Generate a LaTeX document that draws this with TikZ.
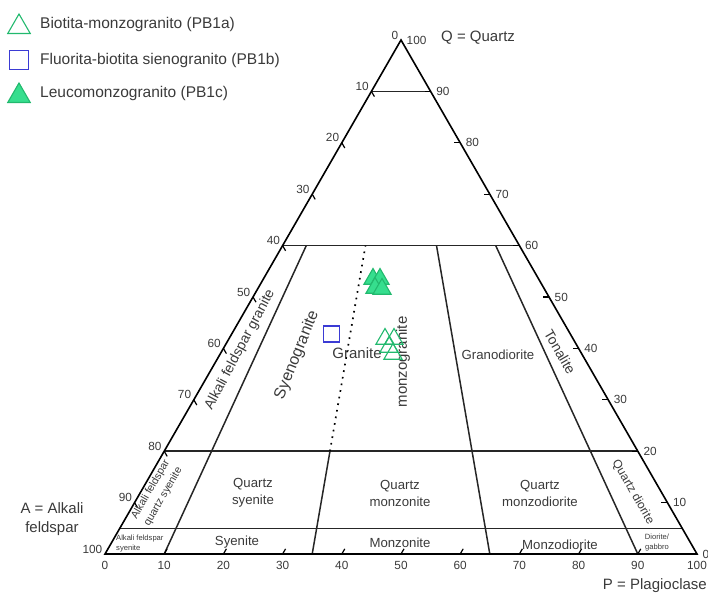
\documentclass[tikz,border=0pt]{standalone}
\usepackage{fontspec}
\setmainfont{Liberation Sans}
\usepackage{tikz}
\usetikzlibrary{
  calc,
  shapes.geometric
}
\definecolor{qapfGreen}{HTML}{36DE8E}
\definecolor{qapfGreenDark}{HTML}{22B96E}
\definecolor{qapfBlue}{HTML}{3B3BD4}
\definecolor{qapfText}{HTML}{3A3A3A}
\tikzset{
  qapfEdge/.style={black, line width=1.6pt, line join=miter},
  qapfBoundary/.style={black!85, line width=1.5pt},
  qapfDotted/.style={black, line width=1.7pt, dash pattern=on 1.7pt off 5pt},
  qapfTick/.style={black, line width=1.2pt},
  tickLabel/.style={font=\fontsize{11.8}{13}\selectfont, text=qapfText, inner sep=0pt},
  axisLabel/.style={font=\fontsize{15}{19}\selectfont, text=qapfText, align=center, inner sep=0pt},
  fieldLabel/.style={font=\fontsize{13.2}{17}\selectfont, text=qapfText, align=center, inner sep=0pt},
  fieldBig/.style={fieldLabel, font=\fontsize{15}{18}\selectfont},
  fieldSmall/.style={fieldLabel, font=\fontsize{10.6}{14.5}\selectfont},
  fieldTiny/.style={fieldLabel, font=\fontsize{7.6}{10}\selectfont},
  legendText/.style={font=\fontsize{15.5}{18}\selectfont, text=qapfText, anchor=west, inner sep=0pt},
  openTri/.style={regular polygon, regular polygon sides=3, draw=qapfGreenDark,
    line width=1.1pt, minimum size=21pt, inner sep=0pt},
  fillTri/.style={openTri, fill=qapfGreen},
  openSquare/.style={rectangle, draw=qapfBlue, line width=1.3pt,
    minimum size=16pt, inner sep=0pt}
}

\begin{document}
\begin{tikzpicture}[x=1pt,y=1pt]
  \useasboundingbox (0,0) rectangle (708,592);

  % corners of the QAP triangle
  \coordinate (A) at (105,38);
  \coordinate (P) at (697,38);
  \coordinate (Q) at (401,552);

  \foreach \k in {0,...,10} {
    \coordinate (L\k) at ($(A)!\k/10!(Q)$);
    \coordinate (R\k) at ($(P)!\k/10!(Q)$);
    \coordinate (B\k) at ($(A)!\k/10!(P)$);
  }
  \coordinate (L05) at ($(A)!0.05!(Q)$);
  \coordinate (R05) at ($(P)!0.05!(Q)$);

  % radial field boundaries (feet on the A-P side)
  \foreach \p/\n in {0.1/a, 0.35/b, 0.65/c, 0.9/d} {
    \coordinate (foot\n) at ($(A)!\p!(P)$);
    \coordinate (mid\n) at ($(foot\n)!0.2!(Q)$);
    \coordinate (top\n) at ($(foot\n)!0.6!(Q)$);
  }

  \draw[qapfBoundary] (L9) -- (R9);
  \draw[qapfBoundary] (L6) -- (R6);
  \draw[qapfBoundary] (L2) -- (R2);
  \draw[qapfBoundary] (L05) -- (R05);
  \draw[qapfBoundary] (foota) -- (topa);
  \draw[qapfBoundary] (footb) -- (midb);
  \draw[qapfDotted] (midb) -- (topb);
  \draw[qapfBoundary] (footc) -- (topc);
  \draw[qapfBoundary] (footd) -- (topd);

  \draw[qapfEdge] (A) -- (P) -- (Q) -- cycle;

  % ticks
  \foreach \k in {1,...,9} {
    \draw[qapfTick] (L\k) -- ++(-60:6);
    \draw[qapfTick] (R\k) -- ++(-6,0);
    \draw[qapfTick] (B\k) -- ++(60:6);
  }

  % tick labels
  \foreach \k [evaluate=\k as \v using {int(100-10*\k)}] in {0,...,10}
    \node[tickLabel, anchor=east] (tl\k) at ([xshift=-2.5, yshift=5]L\k) {\v};
  \foreach \k [evaluate=\k as \v using {int(10*\k)}] in {0,...,10}
    \node[tickLabel, anchor=west] (tr\k) at ([xshift=5.5]R\k) {\v};
  \foreach \k [evaluate=\k as \v using {int(10*\k)}] in {0,...,10}
    \node[tickLabel, anchor=north] (tb\k) at ([yshift=-7]B\k) {\v};

  % corner names
  \node[axisLabel, anchor=west] (nameQ) at (441,554) {Q = Quartz};
  \node[axisLabel] (nameA) at (52,73) {A = Alkali\\feldspar};
  \node[axisLabel, anchor=east] (nameP) at (707,6) {P = Plagioclase};

  % field names
  \node[fieldBig, font=\fontsize{14}{17}\selectfont, rotate=62] (afGranite) at (240,242) {Alkali feldspar granite};
  \node[fieldBig, font=\fontsize{16}{18}\selectfont, rotate=68] (syenoGr) at (297,237) {Syenogranite};
  \node[fieldBig] (granite) at (357,239) {Granite};
  \node[fieldBig, rotate=90] (monzoGr) at (403,230) {monzogranite};
  \node[fieldLabel] (granodio) at (498,237) {Granodiorite};
  \node[fieldBig, font=\fontsize{14}{17}\selectfont, rotate=-60] (tonalite) at (560,240) {Tonalite};
  \node[fieldSmall, rotate=60] (afQzSyen) at (157,99) {Alkali feldspar\\quartz syenite};
  \node[fieldLabel] (qzSyen) at (253,99) {Quartz\\syenite};
  \node[fieldLabel] (qzMonz) at (400,99) {Quartz\\monzonite};
  \node[fieldLabel] (qzMonzDio) at (540,99) {Quartz\\monzodiorite};
  \node[fieldLabel, font=\fontsize{12}{14}\selectfont, rotate=-60] (qzDio) at (633,100) {Quartz diorite};
  \node[fieldTiny, align=left, anchor=west] (afSyen) at (116,48) {Alkali feldspar\\syenite};
  \node[fieldLabel] (syenite) at (237,50) {Syenite};
  \node[fieldLabel] (monzonite) at (400,49) {Monzonite};
  \node[fieldLabel] (monzodio) at (560,47) {Monzodiorite};
  \node[fieldTiny] (dioGab) at (657,49) {Diorite/\\gabbro};

  % samples
  \node[openSquare] (pb1b) at (331.5,258) {};
  \foreach \x/\y [count=\i] in {373/313, 380/313, 375/304, 382/303}
    \node[fillTri] (pb1c\i) at (\x,\y) {};
  \foreach \x/\y [count=\i] in {385/253, 394/253, 389/245, 393/238}
    \node[openTri] (pb1a\i) at (\x,\y) {};

  % legend
  \node[openTri, minimum size=26pt] (keyA) at (19,565) {};
  \node[legendText] (keyAtext) at (40,568) {Biotita-monzogranito (PB1a)};
  \node[openSquare, minimum size=19pt] (keyB) at (19,532) {};
  \node[legendText] (keyBtext) at (40,532) {Fluorita-biotita sienogranito (PB1b)};
  \node[fillTri, minimum size=26pt] (keyC) at (19,496) {};
  \node[legendText] (keyCtext) at (40,499) {Leucomonzogranito (PB1c)};
\end{tikzpicture}
\end{document}
